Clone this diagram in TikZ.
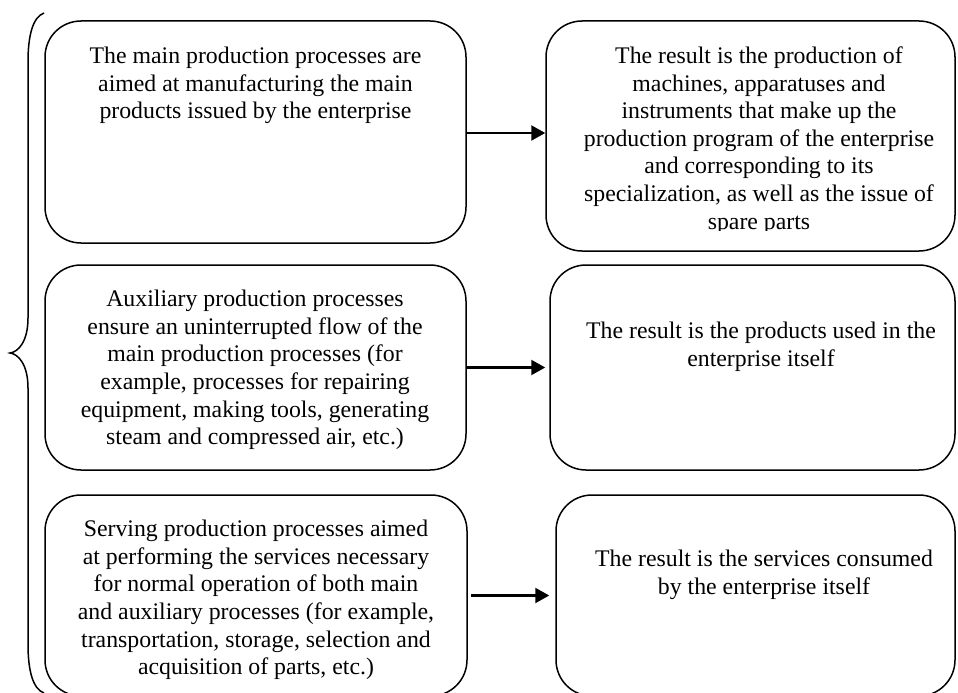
\documentclass[tikz,border=0pt]{standalone}
\usepackage{fontspec}
\setmainfont{Liberation Serif}
\usetikzlibrary{arrows.meta}

\begin{document}
\begin{tikzpicture}[x=1pt, y=-1pt,
		procbox/.style={draw, line width=1.5pt, rounded corners=36pt, inner sep=0pt},
		boxtext/.style={anchor=north, align=center, inner sep=0pt,
			font=\fontsize{23.8}{27.6}\selectfont, execute at begin node=\rule{0pt}{17pt}},
		resarrow/.style={line width=2.2pt, -{Triangle[length=14pt, width=15pt]}}]
				\useasboundingbox (0,0) rectangle (958,693);
				\clip (0,0) rectangle (958,693);
				\draw[line width=1.5pt] (44,13) .. controls (33,17) and (28,35) .. (28,62) -- (28,318)
					.. controls (28,342) and (18,352) .. (10,353) .. controls (18,354) and (28,364) .. (28,388)
					-- (28,644) .. controls (28,671) and (33,689) .. (44,693);
				\node[procbox, minimum width=421pt, minimum height=222pt] (main) at (255.5,132) {};
				\node[procbox, minimum width=409pt, minimum height=230pt] (mainres) at (750.5,136) {};
				\node[procbox, minimum width=421pt, minimum height=205pt] (aux) at (255.5,367.5) {};
				\node[procbox, minimum width=405pt, minimum height=205pt] (auxres) at (752.5,367.5) {};
				\node[procbox, minimum width=422pt, minimum height=201pt] (serv) at (256,595.5) {};
				\node[procbox, minimum width=399pt, minimum height=201pt] (servres) at (755.5,595.5) {};
				\draw[resarrow] ([yshift=-1pt]main.east) coordinate (a1) -- (a1 -| mainres.west);
				\draw[resarrow, shorten >=4pt] (aux.east) -- (aux.east -| auxres.west);
				\draw[resarrow, shorten <=3pt, shorten >=6pt] (serv.east) -- (serv.east -| servres.west);
				\node[boxtext] (maintxt) at (255.5,47) {The main production processes are\\ aimed at manufacturing the main\\ products issued by the enterprise};
				\begin{scope}
					\clip (546,21) rectangle (958,230.5);
					\node[boxtext] (mainrestxt) at (759,46.5) {The result is the production of\\ machines, apparatuses and\\ instruments that make up the\\ production program of the enterprise\\ and corresponding to its\\ specialization, as well as the issue of\\ spare parts};
				\end{scope}
				\node[boxtext] (auxtxt) at (255,290) {Auxiliary production processes\\ ensure an uninterrupted flow of the\\ main production processes (for\\ example, processes for repairing\\ equipment, making tools, generating\\ steam and compressed air, etc.)};
				\node[boxtext] (auxrestxt) at (761,322) {The result is the products used in the\\ enterprise itself};
				\node[boxtext] (servtxt) at (256,520) {Serving production processes aimed\\ at performing the services necessary\\ for normal operation of both main\\ and auxiliary processes (for example,\\ transportation, storage, selection and\\ acquisition of parts, etc.)};
				\node[boxtext] (servrestxt) at (764,550) {The result is the services consumed\\ by the enterprise itself};
			\end{tikzpicture}
\end{document}
